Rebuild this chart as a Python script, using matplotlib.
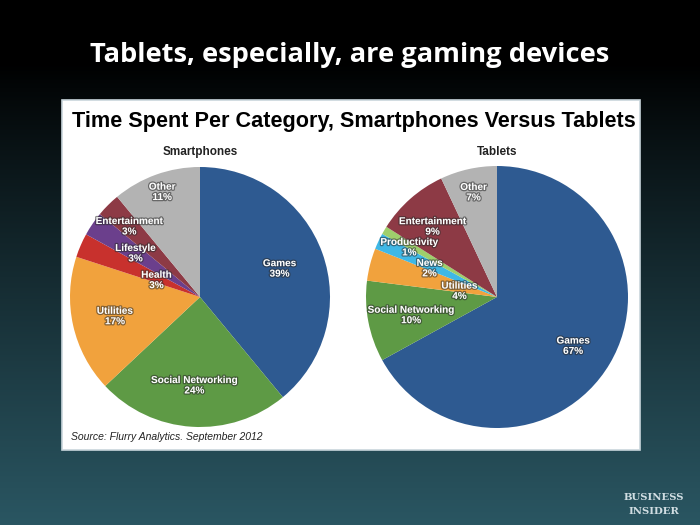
import numpy as np
import matplotlib
matplotlib.use("Agg")
import matplotlib.pyplot as plt
import matplotlib.patheffects as pe

# data
phone_labels = ['Games', 'Social Networking', 'Utilities', 'Health',
                'Lifestyle', 'Entertainment', 'Other']
phone_values = [39, 24, 17, 3, 3, 3, 11]
tablet_labels = ['Games', 'Social Networking', 'Utilities', 'News',
                 'Productivity', 'Entertainment', 'Other']
tablet_values = [67, 10, 4, 2, 1, 9, 7]

colors = {
    'Games': '#2e5a91',
    'Social Networking': '#5e9a45',
    'Utilities': '#f1a23d',
    'Health': '#c8312d',
    'Lifestyle': '#6b3f8c',
    'Entertainment': '#8d3a45',
    'Other': '#b3b3b3',
    'News': '#3fb8e6',
    'Productivity': '#9fcf6c',
}

# label radius (fraction of R) and angle nudge in degrees
phone_lab_r = [0.65, 0.68, 0.67, 0.36, 0.60, 0.77, 0.86]
phone_lab_da = [0, 0, 0, 2, 0, 0, 0]
tablet_lab_r = [0.69, 0.67, 0.29, 0.56, 0.77, 0.73, 0.82]
tablet_lab_da = [-2, 1, 5, 2, 1, 1, 0]

W, H = 700, 525
fig = plt.figure(figsize=(7, 5.25), dpi=100)

# background gradient
bg = fig.add_axes([0, 0, 1, 1])
t = np.linspace(0, 1, 256)[:, None]
top = np.array([0, 0, 0])
bot = np.array([42, 86, 98]) / 255
w = np.clip((t - 0.12) / 0.88, 0, 1) ** 0.9
grad = top * (1 - w) + bot * w
grad = np.repeat(grad[:, None, :], 2, axis=1)
bg.imshow(grad, aspect='auto', extent=[0, W, H, 0])
bg.set_xlim(0, W)
bg.set_ylim(H, 0)
bg.axis('off')

# white panel
bg.add_patch(plt.Rectangle((62, 100), 578, 350, facecolor='white',
                           edgecolor='#c9d6dc', lw=1.2))

bg.text(350, 55, 'Tablets, especially, are gaming devices', color='white',
        fontsize=19.6, fontweight='bold', family='Open Sans',
        ha='center', va='center')
bg.text(354, 122, 'Time Spent Per Category, Smartphones Versus Tablets',
        color='black', fontsize=15.6, fontweight='bold',
        family='Liberation Sans', ha='center', va='center')
bg.text(200, 152, 'Smartphones', fontsize=8.5, fontweight='bold',
        family='Liberation Sans', ha='center', va='center', color='#222')
bg.text(497, 152, 'Tablets', fontsize=8.5, fontweight='bold',
        family='Liberation Sans', ha='center', va='center', color='#222')
bg.text(71, 437, 'Source: Flurry Analytics. September 2012', fontsize=7.5,
        style='italic', family='Liberation Sans', ha='left', va='center',
        color='#222')

bg.text(654, 498, 'BUSINESS', fontsize=7.3, fontweight='bold',
        family='DejaVu Serif', color='#d0dde2', ha='center', va='center')
bg.text(654, 512, 'INSIDER', fontsize=7.3, fontweight='bold',
        family='DejaVu Serif', color='#d0dde2', ha='center', va='center')

shadow = [pe.withStroke(linewidth=1.8, foreground='#2a2a2a', alpha=0.55)]


def draw_pie(cx, cy, R, labels, values, lab_r, lab_da):
    ax = fig.add_axes([(cx - R) / W, (H - cy - R) / H, 2 * R / W, 2 * R / H])
    ax.pie(values, colors=[colors[l] for l in labels], startangle=90,
           counterclock=False, radius=1,
           wedgeprops=dict(linewidth=0))
    ax.set_xlim(-1, 1)
    ax.set_ylim(-1, 1)
    ax.axis('off')
    total = float(sum(values))
    start = 90.0
    for lab, v, r, da in zip(labels, values, lab_r, lab_da):
        mid = start - v / total * 360 / 2 + da
        start -= v / total * 360
        x = r * np.cos(np.radians(mid))
        y = r * np.sin(np.radians(mid))
        ax.text(x, y, '%s\n%d%%' % (lab, v), color='white', fontsize=7.2,
                fontweight='bold', family='Liberation Sans',
                ha='center', va='center', linespacing=1.05,
                path_effects=shadow)


draw_pie(200, 297, 130, phone_labels, phone_values, phone_lab_r, phone_lab_da)
draw_pie(497, 297, 131, tablet_labels, tablet_values, tablet_lab_r, tablet_lab_da)

fig.savefig('out.png', dpi=100)
